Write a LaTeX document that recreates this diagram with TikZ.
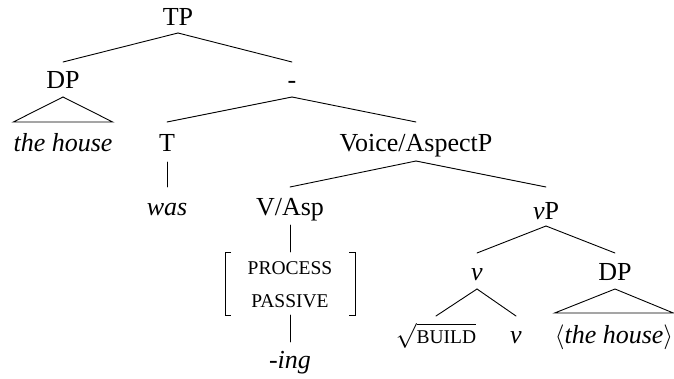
\documentclass[tikz,border=0pt]{standalone}
\usepackage{fontspec}
\setmainfont{Liberation Serif}
\usetikzlibrary{calc}
\newcommand{\fsc}[1]{{\fontsize{19.5}{22}\selectfont #1}}
\tikzset{
  lbl/.style={anchor=base, inner sep=0pt, font=\fontsize{26}{30}\selectfont},
  edge/.style={line width=0.9pt, line cap=round},
}
\begin{document}
\begin{tikzpicture}[x=1pt,y=-1pt]
\useasboundingbox (0,0) rectangle (674,379);
% labels, placed by their baselines
\node[lbl] (tp)    at (178,26)  {TP};
\node[lbl] (dp1)   at (63,89)   {DP};
\node[lbl] (bar)   at (292,89)  {-};
\node[lbl] (h1)    at (63,152)  {\textit{the house}};
\node[lbl] (t)     at (167,152) {T};
\node[lbl] (vap)   at (416,152) {Voice/AspectP};
\node[lbl] (was)   at (167,216) {\textit{was}};
\node[lbl] (vasp)  at (290,216) {V/Asp};
\node[lbl] (vp)    at (546,220) {\textit{v}P};
\node[lbl] (f1)    at (290,274) {\fsc{PROCESS}};
\node[lbl] (f2)    at (290,307) {\fsc{PASSIVE}};
\node[lbl] (v1)    at (477,280) {\textit{v}};
\node[lbl] (dp2)   at (615,280) {DP};
\node[lbl] (ing)   at (290,368) {\textit{-ing}};
\node[lbl] (root)  at (436,343) {$\sqrt{\mbox{\fsc{BUILD}}}$};
\node[lbl] (v2)    at (516,343) {\textit{v}};
\node[lbl] (h2)    at (614,343) {\textit{$\langle$the house$\rangle$}};
% attachment points of the feature bracket
\coordinate (ftop) at (290,252);
\coordinate (fbot) at (290,315);
% branches
\draw[edge] ($(tp.base)+(0,7)$) -- ($(dp1.base)+(0,-27)$);
\draw[edge] ($(tp.base)+(0,7)$) -- ($(bar.base)+(0,-27)$);
\draw[edge] ($(bar.base)+(0,8)$) -- ($(t.base)+(0,-30)$);
\draw[edge] ($(bar.base)+(0,8)$) -- ($(vap.base)+(0,-30)$);
\draw[edge] ($(t.base)+(0,10)$) -- ($(was.base)+(0,-29)$);
\draw[edge] ($(vap.base)+(0,9)$) -- ($(vasp.base)+(0,-29)$);
\draw[edge] ($(vap.base)+(0,9)$) -- ($(vp.base)+(0,-33)$);
\draw[edge] ($(vasp.base)+(0,9)$) -- (ftop);
\draw[edge] (fbot) -- ($(ing.base)+(0,-26)$);
\draw[edge] ($(vp.base)+(0,6)$) -- ($(v1.base)+(0,-27)$);
\draw[edge] ($(vp.base)+(0,6)$) -- ($(dp2.base)+(0,-27)$);
\draw[edge] ($(v1.base)+(0,9)$) -- ($(root.base)+(0,-27)$);
\draw[edge] ($(v1.base)+(0,9)$) -- ($(v2.base)+(0,-27)$);
% triangles over unanalysed phrases
\draw[edge, line join=miter] ($(dp1.base)+(0,8)$) -- ($(h1.base -| h1.west)+(0,-30)$)
  -- ($(h1.base -| h1.east)+(0,-30)$) -- cycle;
\draw[edge, line join=miter] ($(dp2.base)+(0,9)$) -- ($(h2.base -| h2.west)+(0,-30)$)
  -- ($(h2.base -| h2.east)+(0,-30)$) -- cycle;
% feature bracket
\draw[edge, line cap=butt] (231,252) -- (225,252) -- (225,315) -- (231,315);
\draw[edge, line cap=butt] (349,252) -- (355,252) -- (355,315) -- (349,315);
\end{tikzpicture}
\end{document}
